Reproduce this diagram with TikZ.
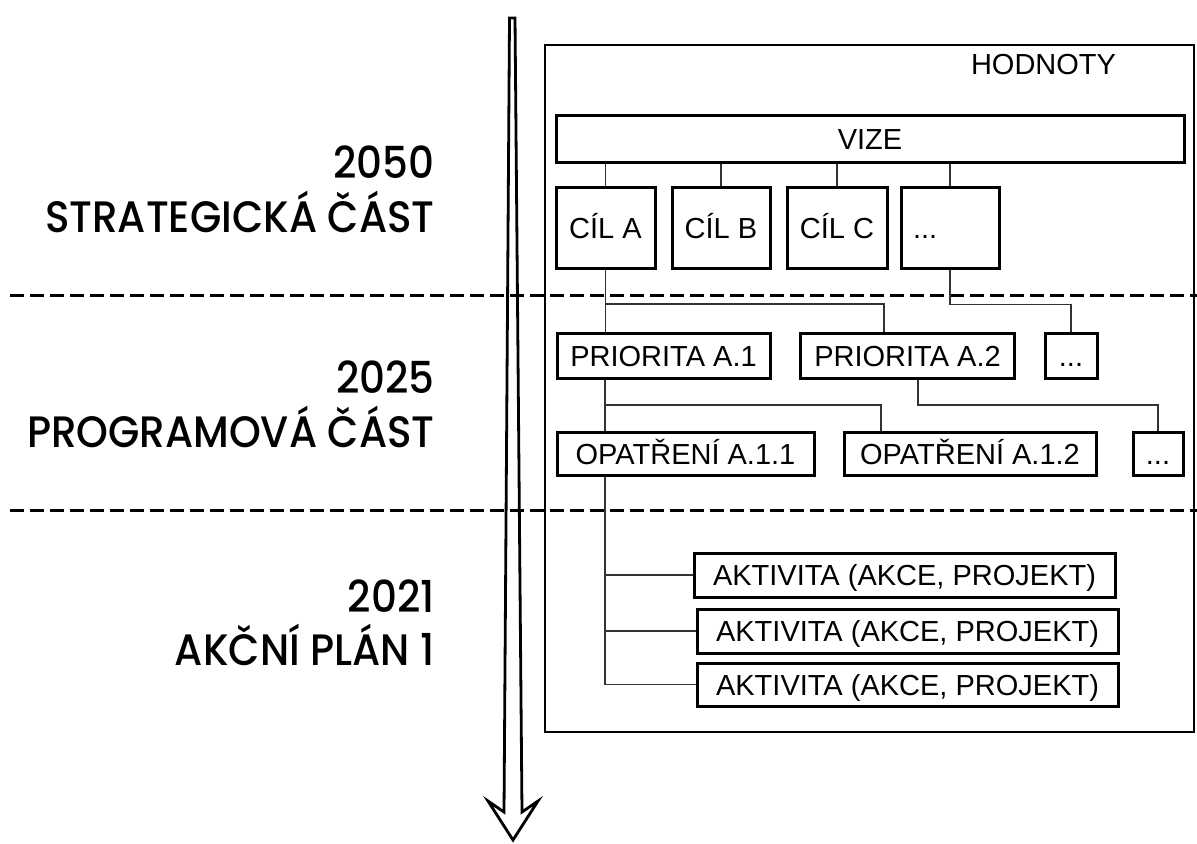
\documentclass[tikz,border=0pt]{standalone}
\usepackage{fontspec}
\setmainfont{Liberation Sans}
\newfontfamily\phasefont{Poppins}[UprightFont=* Medium, FakeStretch=0.92]
\usetikzlibrary{positioning, calc}

\begin{document}
\begin{tikzpicture}[
  x=0.5pt, y=-0.5pt,
  stagebox/.style={
    rectangle, draw=black, line width=1.5pt, inner sep=0pt,
    font=\fontsize{14.5}{17}\selectfont,
    text height=10.5pt, text depth=0pt
  },
  link/.style={draw=black!80, line width=0.6pt},
  cut/.style={dash pattern=on 7pt off 3pt, line width=1.5pt},
  phase/.style={anchor=base east, inner sep=0pt,
    font=\phasefont\fontsize{22}{26}\selectfont},
]
\useasboundingbox (0,0) rectangle (1197,843);

%% ── Time arrow ───────────────────────────────────────────────────────────────
\draw[line width=1.4pt, line join=miter]
  (509.5,18) -- (504,812) -- (488,801) -- (513,840)
  -- (538,801) -- (522,812) -- (515,18) -- cycle;

%% ── Phase labels ─────────────────────────────────────────────────────────────
\node[phase] (year1) at (435,178) {2050};
\node[phase] (part1) at (435,232) {STRATEGICKÁ ČÁST};
\node[phase] (year2) at (435,393) {2025};
\node[phase] (part2) at (435,447) {PROGRAMOVÁ ČÁST};
\node[phase] (year3) at (435,612) {2021};
\node[phase] (part3) at (435,665) {AKČNÍ PLÁN 1};

%% ── Frame ────────────────────────────────────────────────────────────────────
\node[draw=black, line width=1.1pt, minimum width=324.5pt, minimum height=343.5pt,
      inner sep=0pt] (frame) at (869.5,388.5) {};
\node[font=\fontsize{14.5}{17}\selectfont, inner sep=0pt,
      text height=10.5pt, text depth=0pt] (hodnoty) at (1043.5,64) {HODNOTY};

%% ── Phase borders ────────────────────────────────────────────────────────────
\draw[cut] (10,295) -- (1197,295);
\draw[cut] (10,510) -- (1197,510);

%% ── Vision and goals ─────────────────────────────────────────────────────────
\node[stagebox, minimum width=314pt, minimum height=23.5pt] (vize) at (870,138.5) {VIZE};
\node[stagebox, minimum width=49.5pt, minimum height=40.5pt] (cila) at (605.5,227.5) {CÍL A};
\node[stagebox, minimum width=49pt, minimum height=40.5pt] (cilb) at (721,227.5) {CÍL B};
\node[stagebox, minimum width=50pt, minimum height=40.5pt] (cilc) at (837,227.5) {CÍL C};
\node[stagebox, minimum width=49pt, minimum height=40.5pt, text width=37pt,
      align=left] (cild) at (950,227.5) {...};

%% ── Priorities ───────────────────────────────────────────────────────────────
\node[stagebox, minimum width=106.5pt, minimum height=22.5pt] (pria1) at (663.5,355.5) {PRIORITA A.1};
\node[stagebox, minimum width=107pt, minimum height=22.5pt] (pria2) at (907.5,355.5) {PRIORITA A.2};
\node[stagebox, minimum width=26pt, minimum height=22.5pt] (prid) at (1071,355.5) {...};

%% ── Measures ─────────────────────────────────────────────────────────────────
\node[stagebox, minimum width=128.5pt, minimum height=21.5pt] (opa11) at (685.5,453.5) {OPATŘENÍ A.1.1};
\node[stagebox, minimum width=126pt, minimum height=21.5pt] (opa12) at (970,453.5) {OPATŘENÍ A.1.2};
\node[stagebox, minimum width=25pt, minimum height=21.5pt] (opad) at (1158,453.5) {...};

%% ── Activities ───────────────────────────────────────────────────────────────
\node[stagebox, minimum width=210.5pt, minimum height=22pt] (act1) at (904.5,575) {AKTIVITA (AKCE, PROJEKT)};
\node[stagebox, minimum width=210.5pt, minimum height=22pt] (act2) at (907.5,631) {AKTIVITA (AKCE, PROJEKT)};
\node[stagebox, minimum width=210.5pt, minimum height=21.5pt] (act3) at (907.5,684.5) {AKTIVITA (AKCE, PROJEKT)};

%% ── Tree links ───────────────────────────────────────────────────────────────
\foreach \g in {cila,cilb,cilc,cild}
  \draw[link] (\g.north |- vize.south) -- (\g.north);

\coordinate (spine) at (605,0);
\coordinate (k1) at (884,304);
\coordinate (k2) at (881,405);
\coordinate (k3) at (918,405);

\draw[link] (cila.south) -- (cila.south |- pria1.north);
\draw[link] (cila.south |- k1) -| (pria2.north -| k1);
\draw[link] (cild.south) -- ++(0,35) -| (prid.north);

\draw[link] (pria1.south -| spine) -- (opa11.north -| spine);
\draw[link] (spine |- k2) -| (opa12.north -| k2);
\draw[link] (pria2.south -| k3) -- (k3) -| (opad.north);

\draw[link] (opa11.south -| spine) |- (act3.west);
\foreach \a in {act1,act2}
  \draw[link] (spine |- \a.west) -- (\a.west);

\end{tikzpicture}
\end{document}
